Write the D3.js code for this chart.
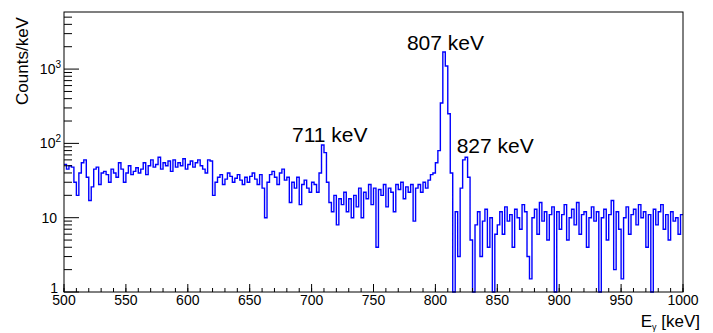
<!DOCTYPE html>
<html><head><meta charset="utf-8">
<script src="https://cdn.jsdelivr.net/npm/d3@7"></script>
<style>body{margin:0;background:#fff}svg{display:block}text{font-family:"Liberation Sans",Arial,sans-serif}</style>
</head><body><svg id="c" width="713" height="333"></svg>
<script>
const binStart = 500, binWidth = 2;
const counts = [
 52,45,50,48,30,20,40,55,60,35,17,26,45,48,28,40,42,38,30,45,40,35,55,45,30,40,50,38,42,47,
 40,45,55,38,50,60,48,52,65,45,55,50,58,42,60,48,55,50,62,45,52,58,48,55,60,50,45,40,60,58,
 20,30,35,38,28,33,40,36,30,34,38,32,28,35,30,36,40,33,28,38,25,10,30,38,42,35,28,40,45,32,35,16,30,25,35,15,28,32,25,22,
 30,28,22,40,95,75,30,16,12,20,8,18,15,22,12,18,10,20,14,25,10,22,18,28,15,25,4,24,20,28,14,25,22,12,28,24,30,18,26,22,28,9,25,28,22,30,25,32,38,40,
 55,80,350,1700,1100,250,40,0,12,3,25,60,65,35,5,0,8,12,3,9,13,4,10,0,6,
 8,12,6,14,9,11,4,13,10,7,15,12,3,1.5,10,13,6,16,9,12,5,11,14,0,12,7,11,15,5,10,
 13,8,16,6,11,12,4,10,14,9,12,0,10,13,5,11,17,2,12,7,1.5,10,14,6,11,13,8,15,10,12,
 4,11,0,13,8,12,15,7,11,5,12,9,10,6,11
];
const xTicks = d3.range(500, 1001, 50);
const xMinor = d3.range(500, 1001, 10);
const yMajor = [1, 10, 100, 1000];
const yMinor = [2,3,4,5,6,7,8,9,20,30,40,50,60,70,80,90,200,300,400,500,600,700,800,900,2000,3000,4000,5000];
const peakText = ["711 keV", "807 keV", "827 keV"];
const peakTextE = [684.2, 777, 817.2];
const peakTextV = [105, 1807, 73.6];

const svg = d3.select("#c");
const L = 64, R = 683, T = 12, B = 292;
const x = d3.scaleLinear().domain([500, 1000]).range([L, R]);
const y = d3.scaleLog().domain([1, 5865]).range([B, T]).clamp(true);

let d = "";
counts.forEach((v, i) => {
  const x0 = x(binStart + i * binWidth), x1 = x(binStart + (i + 1) * binWidth);
  const yy = v > 0 ? y(v) : B;
  d += (i === 0 ? "M" : "L") + x0 + "," + yy + "H" + x1;
});
svg.append("path").attr("d", d).attr("fill", "none").attr("stroke", "#0000ff").attr("stroke-width", 1.4);

svg.append("rect").attr("x", L).attr("y", T).attr("width", R - L).attr("height", B - T)
  .attr("fill", "none").attr("stroke", "#000").attr("stroke-width", 1);

const g = svg.append("g").attr("stroke", "#000").attr("stroke-width", 1);
xMinor.forEach(t => g.append("line").attr("x1", x(t)).attr("x2", x(t)).attr("y1", B).attr("y2", B - 4));
xTicks.forEach(t => g.append("line").attr("x1", x(t)).attr("x2", x(t)).attr("y1", B).attr("y2", B - 8));
yMinor.forEach(t => g.append("line").attr("x1", L).attr("x2", L + 8).attr("y1", y(t)).attr("y2", y(t)));
yMajor.forEach(t => g.append("line").attr("x1", L).attr("x2", L + 15).attr("y1", y(t)).attr("y2", y(t)));

svg.append("g").selectAll("text").data(xTicks).join("text")
  .attr("x", d => x(d)).attr("y", 305).attr("text-anchor", "middle").attr("font-size", 14).text(d => d);

yMajor.forEach(t => {
  const tx = svg.append("text").attr("y", y(t)).attr("dy", "0.35em").attr("text-anchor", "end").attr("font-size", 14);
  if (t === 1) { tx.attr("x", 58).attr("dy", "0.1em").text(t); }
  else if (t < 100) { tx.attr("x", 57).text(t); }
  else {
    tx.attr("x", 61).text("10");
    tx.append("tspan").attr("font-size", 10).attr("dy", "-0.6em").text(Math.round(Math.log10(t)));
  }
});

svg.append("text").attr("transform", "translate(28,61) rotate(-90)").attr("text-anchor", "middle")
  .attr("font-size", 17).text("Counts/keV");
const xt = svg.append("text").attr("x", 700).attr("y", 327).attr("text-anchor", "end").attr("font-size", 17);
xt.append("tspan").text("E");
xt.append("tspan").attr("font-size", 9).attr("dy", 3).text("γ");
xt.append("tspan").attr("dy", -3).text(" [keV]");

svg.append("g").selectAll("text").data(peakText).join("text")
  .attr("x", (d, i) => x(peakTextE[i])).attr("y", (d, i) => y(peakTextV[i]))
  .attr("font-size", 21).text(d => d);
</script></body></html>
